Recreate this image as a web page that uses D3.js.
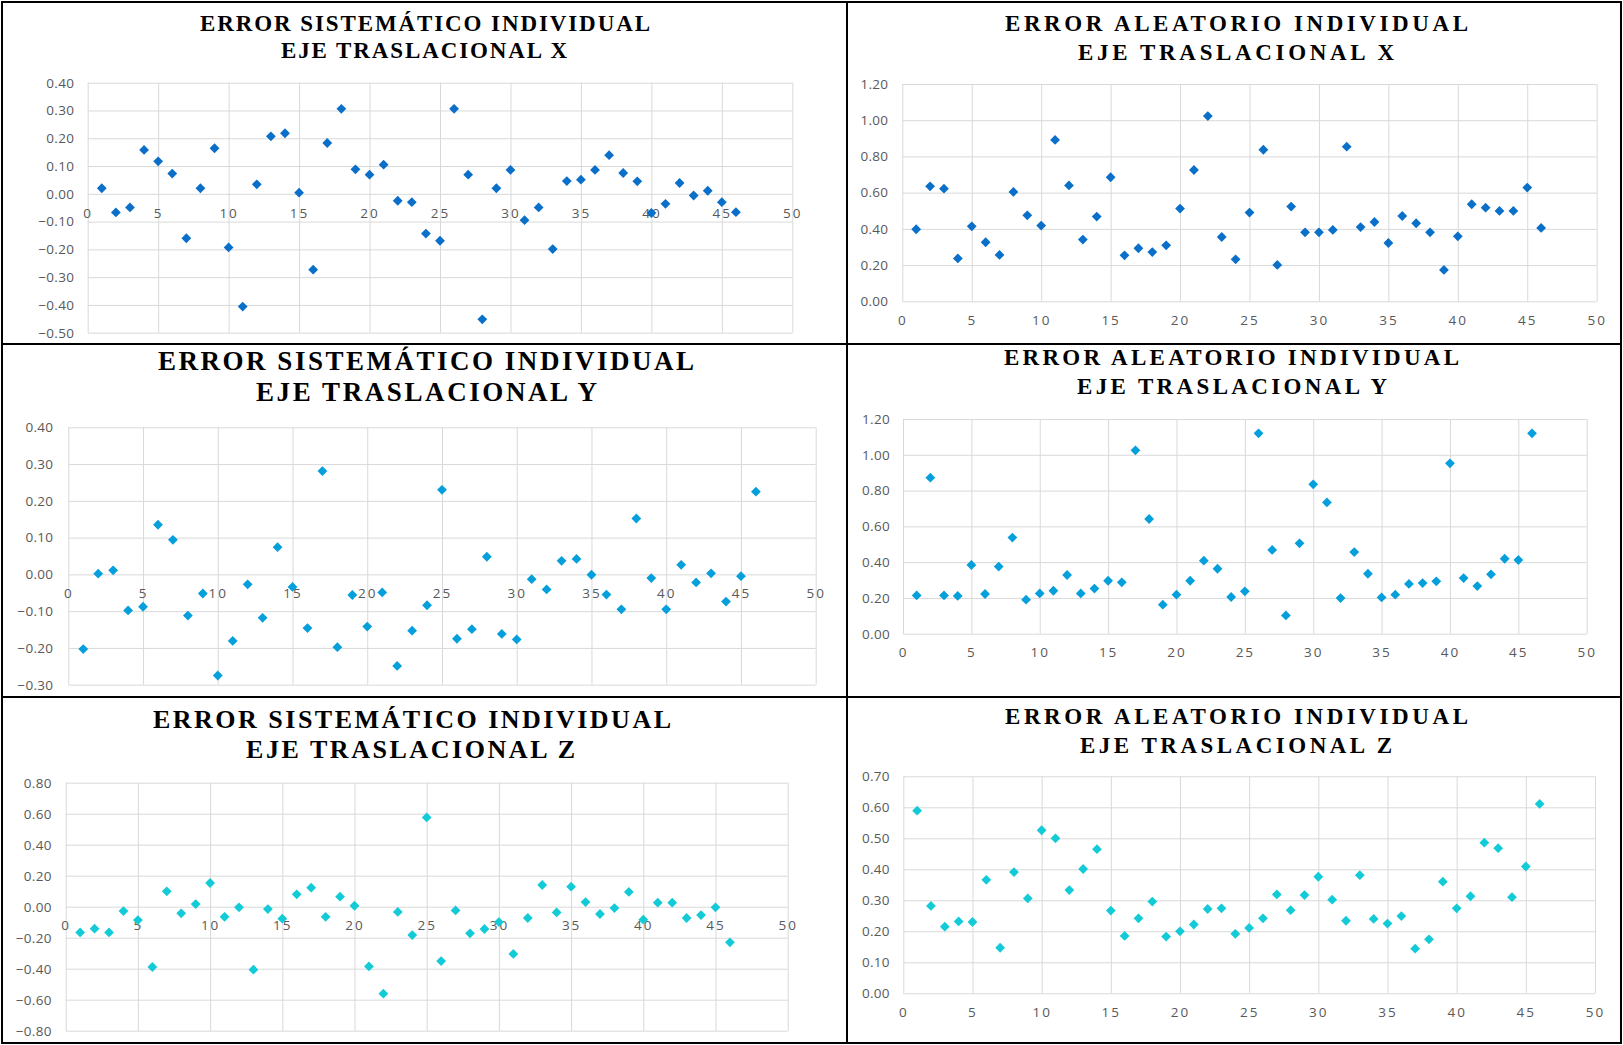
<!DOCTYPE html>
<html>
<head>
<meta charset="utf-8">
<script src="https://cdn.jsdelivr.net/npm/d3@7"></script>
<style>
  html, body { margin: 0; padding: 0; background: #fff; }
  svg { display: block; }
  .tick text { font-family: "Open Sans", "Liberation Sans", sans-serif; fill: #595959; }
  .title { font-family: "Liberation Serif", "DejaVu Serif", serif; font-weight: bold; fill: #000; }
</style>
</head>
<body>
<svg id="chart" width="1623" height="1045"></svg>
<script>
// ---------- DATA ----------
const samples = [1,2,3,4,5,6,7,8,9,10,11,12,13,14,15,16,17,18,19,20,21,22,23,24,25,26,27,28,29,30,31,32,33,34,35,36,37,38,39,40,41,42,43,44,45,46];

const sistX = [0.020,-0.067,-0.049,0.158,0.117,0.073,-0.160,0.020,0.164,-0.193,-0.406,0.034,0.207,0.218,0.004,-0.273,0.183,0.306,0.088,0.069,0.105,-0.025,-0.030,-0.143,-0.169,0.306,0.069,-0.452,0.020,0.086,-0.095,-0.049,-0.199,0.046,0.051,0.086,0.139,0.075,0.045,-0.069,-0.036,0.039,-0.006,0.011,-0.030,-0.066];
const aleatX = [0.398,0.635,0.622,0.237,0.414,0.326,0.256,0.604,0.475,0.418,0.891,0.640,0.341,0.468,0.685,0.254,0.293,0.272,0.309,0.512,0.725,1.023,0.355,0.232,0.490,0.837,0.201,0.523,0.381,0.381,0.394,0.854,0.410,0.438,0.322,0.471,0.431,0.381,0.173,0.359,0.536,0.517,0.499,0.499,0.628,0.405];
const sistY = [-0.203,0.002,0.011,-0.098,-0.088,0.135,0.094,-0.112,-0.052,-0.275,-0.181,-0.027,-0.118,0.074,-0.034,-0.146,0.281,-0.198,-0.056,-0.142,-0.049,-0.249,-0.153,-0.084,0.230,-0.175,-0.149,0.048,-0.162,-0.177,-0.013,-0.041,0.037,0.042,-0.001,-0.055,-0.095,0.152,-0.010,-0.095,0.026,-0.022,0.003,-0.074,-0.005,0.225];
const aleatY = [0.214,0.872,0.214,0.211,0.384,0.222,0.375,0.537,0.190,0.225,0.240,0.328,0.225,0.252,0.296,0.287,1.025,0.641,0.162,0.218,0.296,0.408,0.363,0.205,0.237,1.120,0.468,0.102,0.505,0.835,0.734,0.199,0.456,0.335,0.203,0.218,0.278,0.283,0.293,0.952,0.311,0.266,0.332,0.419,0.412,1.120];
const sistZ = [-0.166,-0.142,-0.166,-0.028,-0.086,-0.389,0.099,-0.043,0.017,0.153,-0.065,-0.004,-0.406,-0.015,-0.077,0.080,0.123,-0.065,0.065,0.006,-0.385,-0.561,-0.034,-0.183,0.576,-0.351,-0.024,-0.172,-0.144,-0.099,-0.305,-0.073,0.140,-0.037,0.129,0.030,-0.047,-0.009,0.095,-0.084,0.026,0.026,-0.073,-0.054,-0.004,-0.230];
const aleatZ = [0.589,0.282,0.215,0.232,0.230,0.366,0.147,0.391,0.306,0.526,0.500,0.333,0.401,0.465,0.267,0.185,0.242,0.296,0.183,0.200,0.222,0.272,0.274,0.192,0.211,0.242,0.319,0.268,0.317,0.376,0.302,0.234,0.381,0.240,0.225,0.249,0.144,0.174,0.360,0.274,0.313,0.486,0.468,0.310,0.409,0.611];

const xTicks = [0,5,10,15,20,25,30,35,40,45,50];
const yTicksSistX = [-0.5,-0.4,-0.3,-0.2,-0.1,0,0.1,0.2,0.3,0.4];
const yTicksAleatX = [0,0.2,0.4,0.6,0.8,1.0,1.2];
const yTicksSistY = [-0.3,-0.2,-0.1,0,0.1,0.2,0.3,0.4];
const yTicksAleatY = [0,0.2,0.4,0.6,0.8,1.0,1.2];
const yTicksSistZ = [-0.8,-0.6,-0.4,-0.2,0,0.2,0.4,0.6,0.8];
const yTicksAleatZ = [0,0.1,0.2,0.3,0.4,0.5,0.6,0.7];

const titlesLine1 = ["ERROR SISTEMÁTICO INDIVIDUAL","ERROR ALEATORIO INDIVIDUAL","ERROR SISTEMÁTICO INDIVIDUAL","ERROR ALEATORIO INDIVIDUAL","ERROR SISTEMÁTICO INDIVIDUAL","ERROR ALEATORIO INDIVIDUAL"];
const titlesLine2 = ["EJE TRASLACIONAL X","EJE TRASLACIONAL X","EJE TRASLACIONAL Y","EJE TRASLACIONAL Y","EJE TRASLACIONAL Z","EJE TRASLACIONAL Z"];

// ---------- LAYOUT ----------
const svg = d3.select("#chart");
const fmt = d3.format(".2f");

const panels = [
  { values: sistX,  yTicks: yTicksSistX,  color: "#0A6FC8", x0: 87.7,  x1: 792.3, yt: 82.7,  yb: 332.7, labPad: 13.5,
    box: [2, 2, 845, 342], fs: 23, t1: [200, 31, 450], t2: [281, 58, 286] },
  { values: aleatX, yTicks: yTicksAleatX, color: "#0A6FC8", x0: 902.3, x1: 1596.7, yt: 84,   yb: 301.3, labPad: 14,
    box: [847, 2, 774, 342], fs: 23, t1: [1005, 31, 463], t2: [1078, 60, 316] },
  { values: sistY,  yTicks: yTicksSistY,  color: "#059FDB", x0: 68.3,  x1: 815.7, yt: 427.3, yb: 684.7, labPad: 15,
    box: [2, 344, 845, 353], fs: 27, t1: [158, 369.5, 536], t2: [256, 400.5, 341] },
  { values: aleatY, yTicks: yTicksAleatY, color: "#059FDB", x0: 903,   x1: 1586.7, yt: 419,  yb: 633.7, labPad: 13,
    box: [847, 344, 774, 353], fs: 23, t1: [1004, 365, 455], t2: [1077, 394, 310] },
  { values: sistZ,  yTicks: yTicksSistZ,  color: "#13CAD7", x0: 65.7,  x1: 787.7, yt: 782.7, yb: 1030.7, labPad: 14,
    box: [2, 697, 845, 346], fs: 26, t1: [153, 727.5, 518], t2: [246, 757.5, 329] },
  { values: aleatZ, yTicks: yTicksAleatZ, color: "#13CAD7", x0: 903.3, x1: 1595,  yt: 776.3, yb: 993.3, labPad: 13.5,
    box: [847, 697, 774, 346], fs: 23, t1: [1005, 723.5, 463], t2: [1080, 752.5, 312] }
];

const diamond = d3.symbol().type(d3.symbolSquare).size(48)();

panels.forEach((p, i) => {
  const g = svg.append("g");
  const x = d3.scaleLinear().domain([xTicks[0], xTicks[xTicks.length - 1]]).range([p.x0, p.x1]);
  const y = d3.scaleLinear().domain([p.yTicks[0], p.yTicks[p.yTicks.length - 1]]).range([p.yb, p.yt]);

  // horizontal grid + y labels
  g.append("g")
    .attr("transform", `translate(${p.x0},0)`)
    .call(d3.axisLeft(y).tickValues(p.yTicks).tickFormat(fmt).tickSize(-(p.x1 - p.x0)).tickPadding(p.labPad))
    .call(s => {
      s.select(".domain").remove();
      s.selectAll("line").attr("stroke", "#D9D9D9").attr("stroke-width", 1);
      s.selectAll("text").attr("font-size", 13.5).attr("letter-spacing", "0.3px");
    });

  // vertical grid
  g.append("g")
    .attr("transform", `translate(0,${p.yb})`)
    .call(d3.axisBottom(x).tickValues(xTicks).tickSize(-(p.yb - p.yt)).tickFormat(""))
    .call(s => {
      s.select(".domain").remove();
      s.selectAll("line").attr("stroke", "#D9D9D9").attr("stroke-width", 1);
    });

  // x labels next to the zero line
  const zeroY = y(Math.max(0, p.yTicks[0]));
  g.append("g")
    .attr("transform", `translate(0,${zeroY})`)
    .call(d3.axisBottom(x).tickValues(xTicks).tickSize(0).tickPadding(0).tickFormat(d3.format("d")))
    .call(s => {
      s.select(".domain").remove();
      s.selectAll("text").attr("y", 19).attr("dy", "0.35em").attr("font-size", 13.5).attr("letter-spacing", "2px");
    });

  // markers
  g.append("g").selectAll("path")
    .data(p.values.map((v, k) => [samples[k], v]))
    .join("path")
    .attr("d", diamond)
    .attr("transform", d => `translate(${x(d[0])},${y(d[1])}) rotate(45)`)
    .attr("fill", p.color);

  // titles
  g.append("text").attr("class", "title")
    .attr("x", p.t1[0]).attr("y", p.t1[1])
    .attr("font-size", p.fs)
    .attr("textLength", p.t1[2]).attr("lengthAdjust", "spacing")
    .text(titlesLine1[i]);
  g.append("text").attr("class", "title")
    .attr("x", p.t2[0]).attr("y", p.t2[1])
    .attr("font-size", p.fs)
    .attr("textLength", p.t2[2]).attr("lengthAdjust", "spacing")
    .text(titlesLine2[i]);

  // panel border
  g.append("rect")
    .attr("x", p.box[0]).attr("y", p.box[1])
    .attr("width", p.box[2]).attr("height", p.box[3])
    .attr("fill", "none").attr("stroke", "#000").attr("stroke-width", 2);
});
</script>
</body>
</html>
